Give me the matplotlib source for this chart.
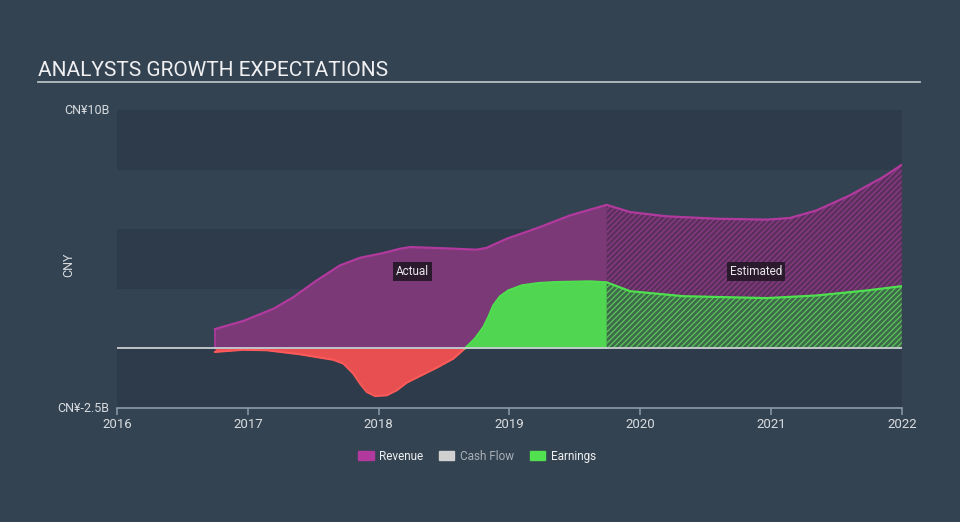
import matplotlib
matplotlib.use("Agg")
import matplotlib.pyplot as plt
from matplotlib.patches import Patch
from matplotlib.lines import Line2D
import numpy as np

plt.rcParams['font.family'] = ['Roboto', 'DejaVu Sans']
plt.rcParams['hatch.linewidth'] = 0.9

# ---- data (CNY billions, x in decimal years) ----
rev_act_x = [2016.749, 2016.965, 2017.195, 2017.348, 2017.526, 2017.704, 2017.857,
             2018.035, 2018.163, 2018.240, 2018.545, 2018.749, 2018.826, 2018.979,
             2019.233, 2019.463, 2019.743]
rev_act_y = [0.81, 1.15, 1.66, 2.15, 2.85, 3.48, 3.80,
             4.00, 4.18, 4.25, 4.19, 4.14, 4.22, 4.60,
             5.09, 5.58, 6.02]
rev_est_x = [2019.743, 2019.921, 2020.202, 2020.584, 2020.966, 2021.144, 2021.348,
             2021.602, 2021.857, 2021.998]
rev_est_y = [6.02, 5.72, 5.54, 5.44, 5.40, 5.47, 5.79, 6.42, 7.19, 7.70]

earn_act_x = [2016.749, 2016.965, 2017.144, 2017.399, 2017.552, 2017.653, 2017.730,
              2017.806, 2017.857, 2017.909, 2017.972, 2018.061, 2018.138, 2018.214,
              2018.316, 2018.444, 2018.571, 2018.660, 2018.736, 2018.800, 2018.838,
              2018.876, 2018.927, 2018.991, 2019.093, 2019.220, 2019.348, 2019.615,
              2019.743]
earn_act_y = [-0.15, -0.06, -0.08, -0.25, -0.39, -0.48, -0.64,
              -1.06, -1.48, -1.83, -2.00, -1.97, -1.76, -1.44,
              -1.16, -0.81, -0.43, 0.0, 0.41, 0.89, 1.31,
              1.80, 2.18, 2.43, 2.64, 2.74, 2.78, 2.81,
              2.77]
earn_est_x = [2019.743, 2019.921, 2020.329, 2020.966, 2021.348, 2021.730, 2021.998]
earn_est_y = [2.77, 2.40, 2.19, 2.11, 2.22, 2.43, 2.61]

x_ticks = [2016, 2017, 2018, 2019, 2020, 2021, 2022]
y_ticks = [-2.5, 10]
y_tick_labels = ['CN¥-2.5B', 'CN¥10B']
legend_labels = ['Revenue', 'Cash Flow', 'Earnings']

# ---- styles ----
BG = '#344351'
BAND = '#2e3b4a'
REV_LINE = '#b23a9e'
REV_FILL = '#7b3977'
REV_EST_BASE = '#5c2f5d'
REV_HATCH = '#8b3c87'
EARN_LINE = '#4fe04f'
EARN_FILL = '#50d651'
EARN_EST_BASE = '#3d6b49'
EARN_HATCH = '#5cc45c'
LOSS_FILL = '#e84f51'
LOSS_LINE = '#ff5a5a'
TXT = '#d8dce0'

fig = plt.figure(figsize=(9.6, 5.22), dpi=100, facecolor=BG)
ax = fig.add_axes([117/960, 1-408/522, 785/960, 298/522])
ax.set_facecolor(BG)
ax.set_xlim(2016, 2022)
ax.set_ylim(-2.5, 10)

for lo, hi in [(7.5, 10), (2.5, 5), (-2.5, 0)]:
    ax.axhspan(lo, hi, color=BAND, lw=0, zorder=0)

rax = np.array(rev_act_x); ray = np.array(rev_act_y)
rex = np.array(rev_est_x); rey = np.array(rev_est_y)
eax = np.array(earn_act_x); eay = np.array(earn_act_y)
eex = np.array(earn_est_x); eey = np.array(earn_est_y)

# revenue actual
ax.fill_between(rax, 0, ray, color=REV_FILL, lw=0, zorder=1)
# revenue estimated (hatched)
ax.fill_between(rex, 0, rey, facecolor=REV_EST_BASE, lw=0, zorder=1)
ax.fill_between(rex, 0, rey, facecolor='none', edgecolor=REV_HATCH, hatch='//////', lw=0, zorder=1)

# earnings actual
ax.fill_between(eax, 0, eay, where=eay >= 0, interpolate=True, color=EARN_FILL, lw=0, zorder=2)
ax.fill_between(eax, 0, eay, where=eay <= 0, interpolate=True, color=LOSS_FILL, lw=0, zorder=2)
# earnings estimated (hatched)
ax.fill_between(eex, 0, eey, facecolor=EARN_EST_BASE, lw=0, zorder=2)
ax.fill_between(eex, 0, eey, facecolor='none', edgecolor=EARN_HATCH, hatch='//////', lw=0, zorder=2)

# lines
ax.plot(np.r_[rax, rex[1:]], np.r_[ray, rey[1:]], color=REV_LINE, lw=1.6, zorder=3,
        solid_joinstyle='round')
ax.plot(eax[eay <= 0.0], eay[eay <= 0.0], color=LOSS_LINE, lw=1.4, zorder=3,
        solid_joinstyle='round')
pos_x = np.r_[eax[eay >= 0.0], eex[1:]]
pos_y = np.r_[eay[eay >= 0.0], eey[1:]]
ax.plot(pos_x, pos_y, color=EARN_LINE, lw=1.6, zorder=3, solid_joinstyle='round')
ax.plot([rax[0], rax[0]], [0, ray[0]], color=REV_LINE, lw=1.2, zorder=3)

# zero line
ax.axhline(0, color='#c9ced3', lw=1.3, zorder=4)

# labels on chart
bbox = dict(boxstyle='square,pad=0.25', fc='#2b1a2d', ec='none')
ax.text(2018.255, 3.22, 'Actual', color='#e8e8ea', fontsize=8.5, ha='center', va='center',
        bbox=bbox, zorder=5)
ax.text(2020.884, 3.22, 'Estimated', color='#e8e8ea', fontsize=8.5, ha='center', va='center',
        bbox=bbox, zorder=5)

# axes styling
for s in ['top', 'right', 'left']:
    ax.spines[s].set_visible(False)
ax.spines['bottom'].set_color('#8d9aa7')
ax.spines['bottom'].set_linewidth(1.2)
ax.set_xticks(x_ticks)
ax.set_xticklabels([str(t) for t in x_ticks])
ax.tick_params(axis='x', colors='#8d9aa7', labelcolor=TXT, length=5, width=1.1,
               labelsize=9.5, pad=2)
ax.set_yticks([])

for v, lab in zip(y_ticks, y_tick_labels):
    ax.text(-0.01, v, lab, transform=ax.get_yaxis_transform(), ha='right',
            va='center', color=TXT, fontsize=9)
ax.text(-0.062, 0.48, 'CNY', transform=ax.transAxes, rotation=90, ha='center',
        va='center', color=TXT, fontsize=9)

# title
fig.text(38/960, 1-70/522, 'ANALYSTS GROWTH EXPECTATIONS', color='#f0f0f2',
         fontsize=15, ha='left', va='center')
fig.add_artist(Line2D([38/960, 920/960], [1-81.5/522, 1-81.5/522], color='#b8bec4',
                      lw=1.3, transform=fig.transFigure))

# legend
handles = [Patch(color='#b23a9e'), Patch(color='#d0d0d0'), Patch(color='#50e050')]
leg = fig.legend(handles, legend_labels, loc='center', bbox_to_anchor=(0.497, 1-456/522),
                 ncol=3, frameon=False, fontsize=8.5, handlelength=1.3, handleheight=0.9,
                 handletextpad=0.5, columnspacing=1.3)
for t, c in zip(leg.get_texts(), ['#eef0f2', '#a9b0b7', '#eef0f2']):
    t.set_color(c)

fig.savefig('out.png', dpi=100, facecolor=BG)
